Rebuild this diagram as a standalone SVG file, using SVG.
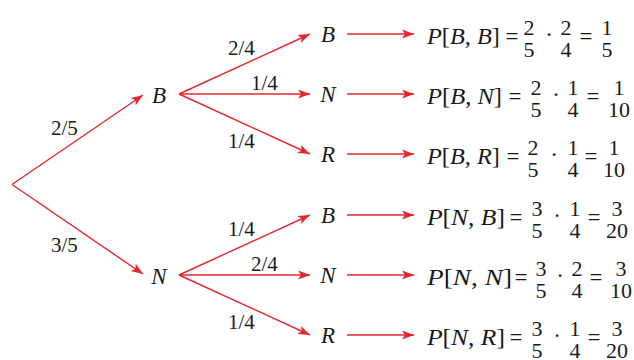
<svg xmlns="http://www.w3.org/2000/svg" width="634" height="360" viewBox="0 0 634 360" font-family="Liberation Serif">
<defs>
<marker id="ah" markerUnits="userSpaceOnUse" markerWidth="14" markerHeight="10" refX="12" refY="4.5" orient="auto">
<path d="M0,0 L12,4.5 L0,9 L3,4.5 Z" fill="#e8242c"/>
</marker>
</defs>
<g id="connectors" stroke="#e8242c" stroke-width="1.4" fill="none" marker-end="url(#ah)">
<line x1="12" y1="184.5" x2="143" y2="95"/>
<line x1="12" y1="184.5" x2="143" y2="274"/>
<line x1="179" y1="94" x2="310" y2="34"/>
<line x1="179" y1="94" x2="310" y2="94"/>
<line x1="179" y1="94" x2="310" y2="154"/>
<line x1="179" y1="275" x2="310" y2="215"/>
<line x1="179" y1="275" x2="310" y2="275"/>
<line x1="179" y1="275" x2="310" y2="335"/>
<line x1="347" y1="34" x2="414" y2="34"/>
<line x1="347" y1="94" x2="414" y2="94"/>
<line x1="347" y1="154" x2="414" y2="154"/>
<line x1="347" y1="215" x2="414" y2="215"/>
<line x1="347" y1="275" x2="414" y2="275"/>
<line x1="347" y1="335" x2="414" y2="335"/>
</g>
<g id="edge-labels" fill="#1a1a1a" font-family="Liberation Serif" font-size="21">
<text style="font-family:'Liberation Serif',serif !important" x="51" y="135">2/5</text>
<text style="font-family:'Liberation Serif',serif !important" x="51" y="252">3/5</text>
<text style="font-family:'Liberation Serif',serif !important" x="228" y="55">2/4</text>
<text style="font-family:'Liberation Serif',serif !important" x="251" y="90">1/4</text>
<text style="font-family:'Liberation Serif',serif !important" x="228" y="148">1/4</text>
<text style="font-family:'Liberation Serif',serif !important" x="228" y="236">1/4</text>
<text style="font-family:'Liberation Serif',serif !important" x="251" y="271">2/4</text>
<text style="font-family:'Liberation Serif',serif !important" x="228" y="329">1/4</text>
</g>
<g id="node-B"><text style="font-family:'Liberation Serif',serif !important" font-size="23" font-style="italic" text-anchor="middle" fill="#1a1a1a" x="159" y="103">B</text></g>
<g id="node-N"><text style="font-family:'Liberation Serif',serif !important" font-size="23" font-style="italic" text-anchor="middle" fill="#1a1a1a" x="159" y="284">N</text></g>
<g id="leaf-BB"><text style="font-family:'Liberation Serif',serif !important" font-size="23" font-style="italic" text-anchor="middle" fill="#1a1a1a" x="328" y="42">B</text></g>
<g id="leaf-BN"><text style="font-family:'Liberation Serif',serif !important" font-size="23" font-style="italic" text-anchor="middle" fill="#1a1a1a" x="328" y="102">N</text></g>
<g id="leaf-BR"><text style="font-family:'Liberation Serif',serif !important" font-size="23" font-style="italic" text-anchor="middle" fill="#1a1a1a" x="328" y="162">R</text></g>
<g id="leaf-NB"><text style="font-family:'Liberation Serif',serif !important" font-size="23" font-style="italic" text-anchor="middle" fill="#1a1a1a" x="328" y="223">B</text></g>
<g id="leaf-NN"><text style="font-family:'Liberation Serif',serif !important" font-size="23" font-style="italic" text-anchor="middle" fill="#1a1a1a" x="328" y="283">N</text></g>
<g id="leaf-NR"><text style="font-family:'Liberation Serif',serif !important" font-size="23" font-style="italic" text-anchor="middle" fill="#1a1a1a" x="328" y="343">R</text></g>

<g id="formula-BB" fill="#1a1a1a">
<text style="font-family:'Liberation Serif',serif !important" font-size="23" x="427" y="44" textLength="73" lengthAdjust="spacingAndGlyphs"><tspan font-style="italic">P</tspan>[<tspan font-style="italic">B</tspan>, <tspan font-style="italic">B</tspan>]</text>
<text style="font-family:'Liberation Serif',serif !important" font-size="23" text-anchor="middle" x="512" y="44">=</text>
<text style="font-family:'Liberation Serif',serif !important" font-size="22" text-anchor="middle" x="529" y="35">2</text>
<text style="font-family:'Liberation Serif',serif !important" font-size="22" text-anchor="middle" x="529" y="57">5</text>
<text style="font-family:'Liberation Serif',serif !important" font-size="23" text-anchor="middle" x="549" y="42">·</text>
<text style="font-family:'Liberation Serif',serif !important" font-size="22" text-anchor="middle" x="566" y="35">2</text>
<text style="font-family:'Liberation Serif',serif !important" font-size="22" text-anchor="middle" x="566" y="57">4</text>
<text style="font-family:'Liberation Serif',serif !important" font-size="23" text-anchor="middle" x="586" y="44">=</text>
<text style="font-family:'Liberation Serif',serif !important" font-size="22" text-anchor="middle" x="607" y="35">1</text>
<text style="font-family:'Liberation Serif',serif !important" font-size="22" text-anchor="middle" x="607" y="57">5</text>
</g>
<g id="formula-BN" fill="#1a1a1a">
<text style="font-family:'Liberation Serif',serif !important" font-size="23" x="427" y="104" textLength="75" lengthAdjust="spacingAndGlyphs"><tspan font-style="italic">P</tspan>[<tspan font-style="italic">B</tspan>, <tspan font-style="italic">N</tspan>]</text>
<text style="font-family:'Liberation Serif',serif !important" font-size="23" text-anchor="middle" x="515" y="104">=</text>
<text style="font-family:'Liberation Serif',serif !important" font-size="22" text-anchor="middle" x="536" y="95">2</text>
<text style="font-family:'Liberation Serif',serif !important" font-size="22" text-anchor="middle" x="536" y="117">5</text>
<text style="font-family:'Liberation Serif',serif !important" font-size="23" text-anchor="middle" x="556" y="102">·</text>
<text style="font-family:'Liberation Serif',serif !important" font-size="22" text-anchor="middle" x="573" y="95">1</text>
<text style="font-family:'Liberation Serif',serif !important" font-size="22" text-anchor="middle" x="573" y="117">4</text>
<text style="font-family:'Liberation Serif',serif !important" font-size="23" text-anchor="middle" x="593" y="104">=</text>
<text style="font-family:'Liberation Serif',serif !important" font-size="22" text-anchor="middle" x="619" y="95">1</text>
<text style="font-family:'Liberation Serif',serif !important" font-size="22" text-anchor="middle" x="619" y="117">10</text>
</g>
<g id="formula-BR" fill="#1a1a1a">
<text style="font-family:'Liberation Serif',serif !important" font-size="23" x="427" y="164" textLength="73" lengthAdjust="spacingAndGlyphs"><tspan font-style="italic">P</tspan>[<tspan font-style="italic">B</tspan>, <tspan font-style="italic">R</tspan>]</text>
<text style="font-family:'Liberation Serif',serif !important" font-size="23" text-anchor="middle" x="513" y="164">=</text>
<text style="font-family:'Liberation Serif',serif !important" font-size="22" text-anchor="middle" x="533" y="155">2</text>
<text style="font-family:'Liberation Serif',serif !important" font-size="22" text-anchor="middle" x="533" y="177">5</text>
<text style="font-family:'Liberation Serif',serif !important" font-size="23" text-anchor="middle" x="554" y="162">·</text>
<text style="font-family:'Liberation Serif',serif !important" font-size="22" text-anchor="middle" x="573" y="155">1</text>
<text style="font-family:'Liberation Serif',serif !important" font-size="22" text-anchor="middle" x="573" y="177">4</text>
<text style="font-family:'Liberation Serif',serif !important" font-size="23" text-anchor="middle" x="591" y="164">=</text>
<text style="font-family:'Liberation Serif',serif !important" font-size="22" text-anchor="middle" x="614" y="155">1</text>
<text style="font-family:'Liberation Serif',serif !important" font-size="22" text-anchor="middle" x="614" y="177">10</text>
</g>
<g id="formula-NB" fill="#1a1a1a">
<text style="font-family:'Liberation Serif',serif !important" font-size="23" x="427" y="225" textLength="78" lengthAdjust="spacingAndGlyphs"><tspan font-style="italic">P</tspan>[<tspan font-style="italic">N</tspan>, <tspan font-style="italic">B</tspan>]</text>
<text style="font-family:'Liberation Serif',serif !important" font-size="23" text-anchor="middle" x="516" y="225">=</text>
<text style="font-family:'Liberation Serif',serif !important" font-size="22" text-anchor="middle" x="537" y="216">3</text>
<text style="font-family:'Liberation Serif',serif !important" font-size="22" text-anchor="middle" x="537" y="238">5</text>
<text style="font-family:'Liberation Serif',serif !important" font-size="23" text-anchor="middle" x="557" y="223">·</text>
<text style="font-family:'Liberation Serif',serif !important" font-size="22" text-anchor="middle" x="575" y="216">1</text>
<text style="font-family:'Liberation Serif',serif !important" font-size="22" text-anchor="middle" x="575" y="238">4</text>
<text style="font-family:'Liberation Serif',serif !important" font-size="23" text-anchor="middle" x="594" y="225">=</text>
<text style="font-family:'Liberation Serif',serif !important" font-size="22" text-anchor="middle" x="617" y="216">3</text>
<text style="font-family:'Liberation Serif',serif !important" font-size="22" text-anchor="middle" x="617" y="238">20</text>
</g>
<g id="formula-NN" fill="#1a1a1a">
<text style="font-family:'Liberation Serif',serif !important" font-size="23" x="427" y="285" textLength="85" lengthAdjust="spacingAndGlyphs"><tspan font-style="italic">P</tspan>[<tspan font-style="italic">N</tspan>, <tspan font-style="italic">N</tspan>]</text>
<text style="font-family:'Liberation Serif',serif !important" font-size="23" text-anchor="middle" x="521" y="285">=</text>
<text style="font-family:'Liberation Serif',serif !important" font-size="22" text-anchor="middle" x="541" y="276">3</text>
<text style="font-family:'Liberation Serif',serif !important" font-size="22" text-anchor="middle" x="541" y="298">5</text>
<text style="font-family:'Liberation Serif',serif !important" font-size="23" text-anchor="middle" x="560" y="283">·</text>
<text style="font-family:'Liberation Serif',serif !important" font-size="22" text-anchor="middle" x="577" y="276">2</text>
<text style="font-family:'Liberation Serif',serif !important" font-size="22" text-anchor="middle" x="577" y="298">4</text>
<text style="font-family:'Liberation Serif',serif !important" font-size="23" text-anchor="middle" x="596" y="285">=</text>
<text style="font-family:'Liberation Serif',serif !important" font-size="22" text-anchor="middle" x="621" y="276">3</text>
<text style="font-family:'Liberation Serif',serif !important" font-size="22" text-anchor="middle" x="621" y="298">10</text>
</g>
<g id="formula-NR" fill="#1a1a1a">
<text style="font-family:'Liberation Serif',serif !important" font-size="23" x="427" y="345" textLength="78" lengthAdjust="spacingAndGlyphs"><tspan font-style="italic">P</tspan>[<tspan font-style="italic">N</tspan>, <tspan font-style="italic">R</tspan>]</text>
<text style="font-family:'Liberation Serif',serif !important" font-size="23" text-anchor="middle" x="516" y="345">=</text>
<text style="font-family:'Liberation Serif',serif !important" font-size="22" text-anchor="middle" x="537" y="336">3</text>
<text style="font-family:'Liberation Serif',serif !important" font-size="22" text-anchor="middle" x="537" y="358">5</text>
<text style="font-family:'Liberation Serif',serif !important" font-size="23" text-anchor="middle" x="557" y="343">·</text>
<text style="font-family:'Liberation Serif',serif !important" font-size="22" text-anchor="middle" x="575" y="336">1</text>
<text style="font-family:'Liberation Serif',serif !important" font-size="22" text-anchor="middle" x="575" y="358">4</text>
<text style="font-family:'Liberation Serif',serif !important" font-size="23" text-anchor="middle" x="594" y="345">=</text>
<text style="font-family:'Liberation Serif',serif !important" font-size="22" text-anchor="middle" x="617" y="336">3</text>
<text style="font-family:'Liberation Serif',serif !important" font-size="22" text-anchor="middle" x="617" y="358">20</text>
</g>
</svg>
